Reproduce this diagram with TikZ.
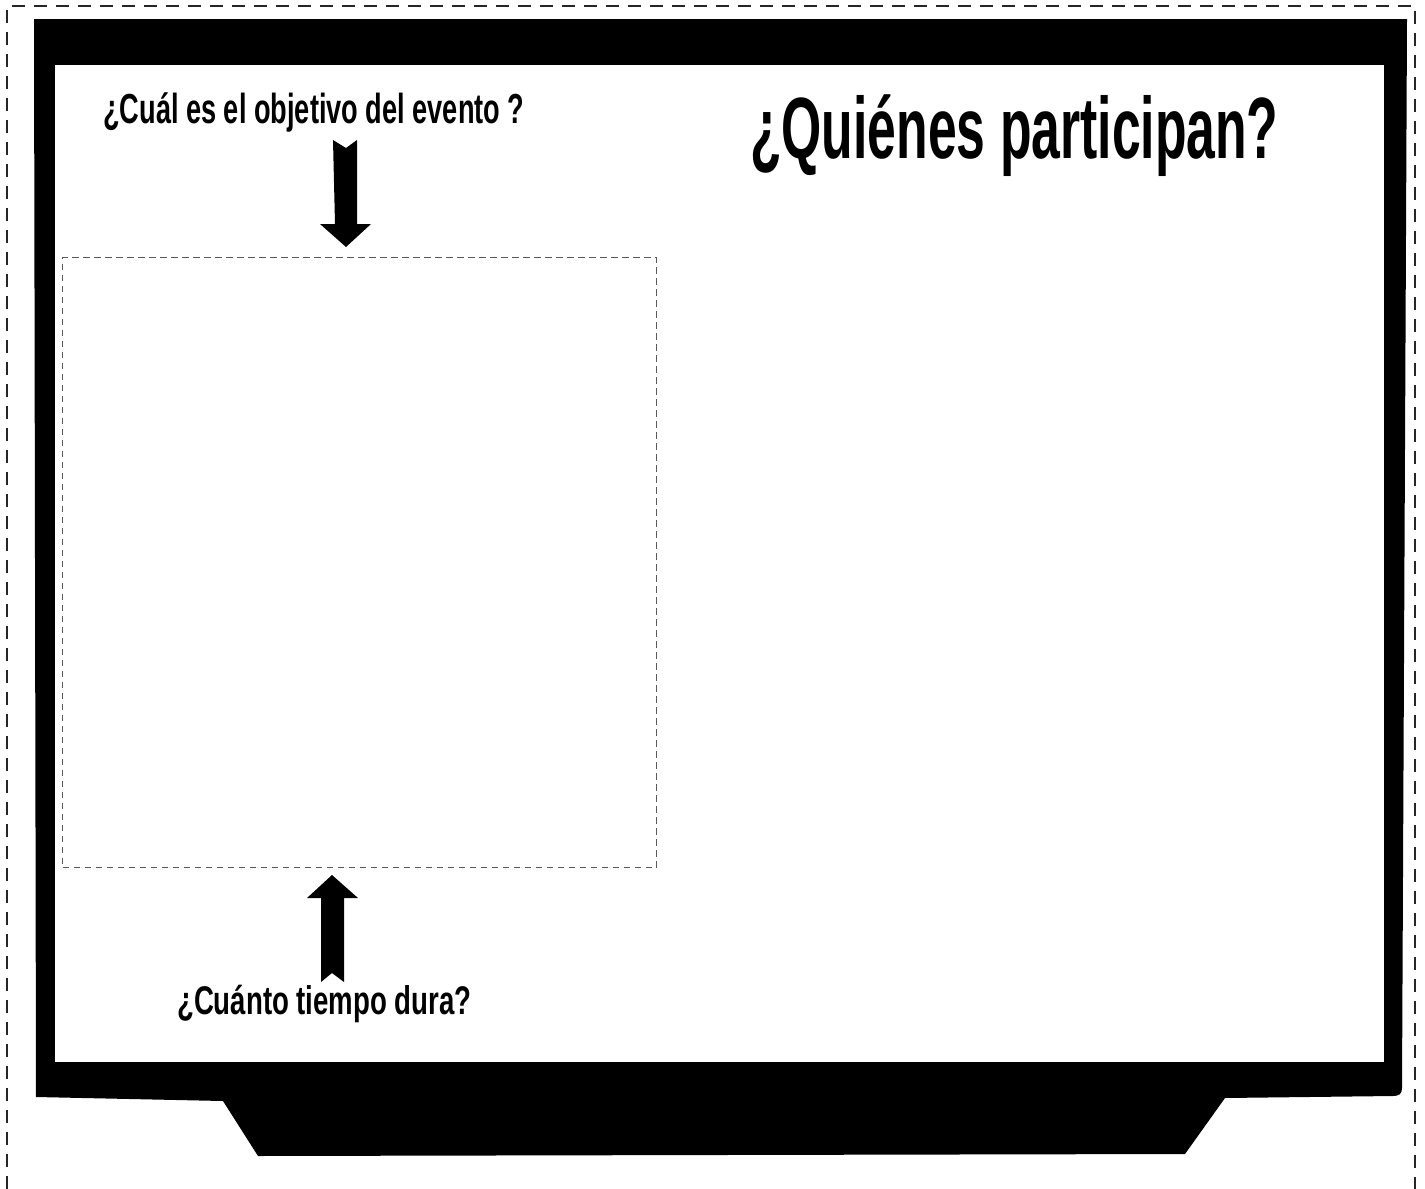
\documentclass[tikz,border=0pt]{standalone}
\usepackage{fontspec}
\setmainfont{Liberation Sans}
\begin{document}
\begin{tikzpicture}[x=1pt,y=-1pt,
  outerdash/.style={draw=black!85, line width=1.8pt, dash pattern=on 13pt off 9pt},
  innerdash/.style={draw=black!65, line width=1.1pt, dash pattern=on 6.5pt off 4.5pt},
  blockarrow/.style={fill=black, draw=none},
  qtext/.style={inner sep=0pt, anchor=base west, font=\bfseries}]
\useasboundingbox (0,0) rectangle (1425,1189);
\fill[white] (0,0) rectangle (1425,1189);
% outer dashed frame
\draw[outerdash] (7,1189) -- (7,6) -- (1415,6) -- (1415,1189);
% monitor body
\fill[black] (34,19) -- (1407,19) -- (1402,1088)
  .. controls (1402,1094) and (1399,1096) .. (1393,1096)
  -- (1225,1098) -- (1185,1154) -- (258,1156) -- (223,1101) -- (36,1097) -- cycle;
\fill[white] (55,65) rectangle (1384,1062);
% inner dashed box
\node[innerdash, minimum width=594pt, minimum height=610pt, inner sep=0pt, anchor=north west] (box) at (62,257) {};
% texts
\node[qtext] (q1) at (103,123) {\scalebox{0.647}[1]{\fontsize{42}{46}\selectfont ¿Cuál es el objetivo del evento ?}};
\node[qtext] (q2) at (750,158) {\scalebox{0.594}[1]{\fontsize{87}{92}\selectfont ¿Quiénes participan?}};
\node[qtext] (q3) at (177,1014) {\scalebox{0.69}[1]{\fontsize{40}{44}\selectfont ¿Cuánto tiempo dura?}};
% down arrow
\fill[blockarrow] (333,140) -- (346,148) -- (357,140) -- (357,224) -- (371,224)
  -- (346,247) -- (320,224) -- (335,224) -- cycle;
% up arrow
\fill[blockarrow] (332,875) -- (358,898) -- (344,898) -- (344,982) -- (332,973)
  -- (321,982) -- (321,898) -- (307,898) -- cycle;
\end{tikzpicture}
\end{document}
